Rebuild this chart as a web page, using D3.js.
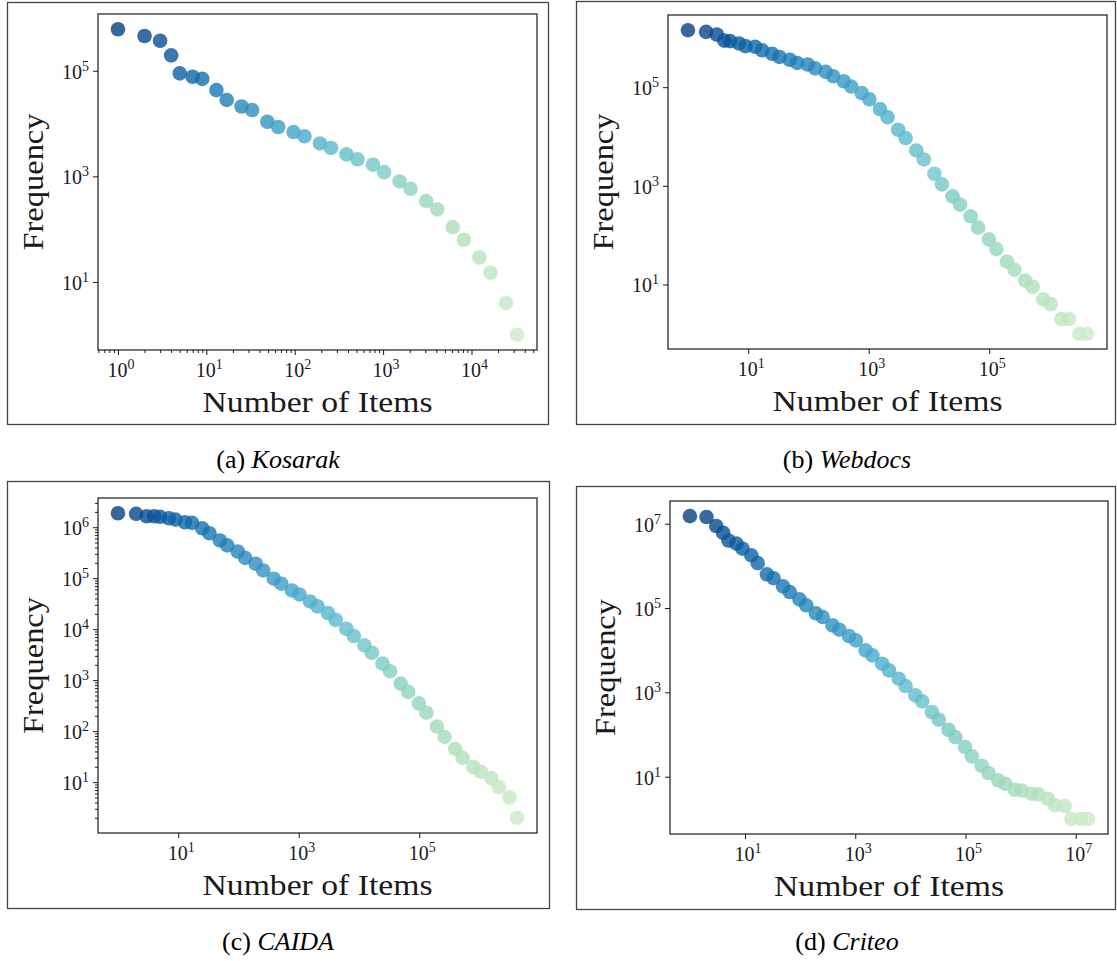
<!DOCTYPE html>
<html><head><meta charset="utf-8">
<script src="https://cdn.jsdelivr.net/npm/d3@7"></script>
<style>body{margin:0;background:#fff} svg{display:block}</style>
</head><body><svg id="chart" width="1117" height="961"></svg>
<script>
// ---------- data ----------
const kosarakX = [1,2,3,4,5,7,9,13,17,25,33,49,65,97,129,193,257,385,513,769,1025,1537,2049,3073,4097,6145,8193,12289,16385,24577,32769];
const kosarakY = [610000,455000,370000,195000,89000,77000,70000,43000,28000,21000,18000,10800,8600,6900,5750,4200,3450,2600,2100,1660,1200,800,580,340,236,109,63,29,15,4,1];

const webdocsX = [1,2,3,4,5,7,9,13,17,25,33,49,65,97,129,193,257,385,513,769,1025,1537,2049,3073,4097,6145,8193,12289,16385,24577,32769,49153,65537,98305,131073,196609,262145,393217,524289,786433,1048577,1572865,2097153,3145729,4194305];
const webdocsY = [1430000,1320000,1170000,880000,860000,770000,680000,660000,560000,475000,410000,360000,310000,288000,240000,205000,167000,132000,103000,75700,57000,36000,24700,13700,9300,5220,3430,1760,1070,612,416,241,142,82,52,29,20,12,9,5,4,2,2,1,1];

const caidaX = [1,2,3,4,5,7,9,13,17,25,33,49,65,97,129,193,257,385,513,769,1025,1537,2049,3073,4097,6145,8193,12289,16385,24577,32769,49153,65537,98305,131073,196609,262145,393217,524289,786433,1048577,1572865,2097153,3145729,4194305];
const caidaY = [1880000,1830000,1640000,1640000,1600000,1500000,1410000,1250000,1220000,955000,760000,550000,440000,334000,250000,192000,142000,97700,78000,57500,48000,35000,28000,20700,15300,10200,7350,4820,3450,2110,1500,857,588,350,230,123,77,45,30,20,16,12,8,5,2];

const criteoX = [1,2,3,4,5,7,9,13,17,25,33,49,65,97,129,193,257,385,513,769,1025,1537,2049,3073,4097,6145,8193,12289,16385,24577,32769,49153,65537,98305,131073,196609,262145,393217,524289,786433,1048577,1572865,2097153,3145729,4194305,6291457,8388609,12582913,16777217];
const criteoY = [15100000,14400000,8800000,6100000,4000000,3360000,2550000,1770000,1160000,630000,510000,326000,239000,160000,116000,75000,61000,39000,30600,21700,17100,9900,7540,4780,3330,2110,1410,849,612,342,225,130,87,50.6,30.4,18.2,12.2,8.2,6.8,4.9,4.7,3.95,3.8,3.0,2.1,2.0,1,1,1];

// tick values (powers of ten)
const kosarakXTicks = [1,10,100,1000,10000];
const kosarakYTicks = [10,1000,100000];
const webdocsXTicks = [10,1000,100000];
const webdocsYTicks = [10,1000,100000];
const caidaXTicks = [10,1000,100000];
const caidaYTicks = [10,100,1000,10000,100000,1000000];
const criteoXTicks = [10,1000,100000,10000000];
const criteoYTicks = [10,1000,100000,10000000];

const captionTags = ["(a)","(b)","(c)","(d)"];
const captionNames = ["Kosarak","Webdocs","CAIDA","Criteo"];
const xAxisTitle = "Number of Items";
const yAxisTitle = "Frequency";

// ---------- layout ----------
const panels = [
  {xs:kosarakX, ys:kosarakY, xt:kosarakXTicks, yt:kosarakYTicks, xMinor:true,  yMinor:false,
   box:[7,2,548,424],   plot:[98,14,537,350],  cap:[278,468]},
  {xs:webdocsX, ys:webdocsY, xt:webdocsXTicks, yt:webdocsYTicks, xMinor:false, yMinor:false,
   box:[576,1,1115,424], plot:[668,15,1107,349], cap:[847,468]},
  {xs:caidaX, ys:caidaY, xt:caidaXTicks, yt:caidaYTicks, xMinor:false, yMinor:true,
   box:[7,481,549,908], plot:[98,498,537,833], cap:[278,950]},
  {xs:criteoX, ys:criteoY, xt:criteoXTicks, yt:criteoYTicks, xMinor:false, yMinor:false,
   box:[576,486,1115,909], plot:[670,501,1108,834], cap:[847,950]}
];

const svg = d3.select("#chart");
const FONT = "'Liberation Serif','Times New Roman',serif";
const INK = "#1a1a1a";

function paddedLog(vals){
  const lo = Math.log10(d3.min(vals)), hi = Math.log10(d3.max(vals)), r = hi - lo;
  return [Math.pow(10, lo - 0.05*r), Math.pow(10, hi + 0.05*r)];
}
function minorTicks(domain){
  const out = [];
  const e0 = Math.floor(Math.log10(domain[0])), e1 = Math.ceil(Math.log10(domain[1]));
  for (let e = e0; e <= e1; e++) for (let m = 2; m <= 9; m++) {
    const v = m*Math.pow(10,e);
    if (v >= domain[0] && v <= domain[1]) out.push(v);
  }
  return out;
}
function powLabel(sel){
  sel.each(function(d){
    const t = d3.select(this);
    const e = Math.round(Math.log10(d));
    t.append("tspan").text("10");
    t.append("tspan").attr("dy", -8).attr("font-size", 14).text(String(e));
  });
}

panels.forEach((p, i) => {
  const [bx0,by0,bx1,by1] = p.box;
  const [px0,py0,px1,py1] = p.plot;
  const g = svg.append("g");

  g.append("rect").attr("x",bx0+0.5).attr("y",by0+0.5).attr("width",bx1-bx0).attr("height",by1-by0)
    .attr("fill","none").attr("stroke","#444").attr("stroke-width",1.3);

  const x = d3.scaleLog().domain(paddedLog(p.xs)).range([px0,px1]);
  const y = d3.scaleLog().domain(paddedLog(p.ys)).range([py1,py0]);
  const n = p.xs.length;
  const pts = p.xs.map((v,k)=>({x:v, y:p.ys[k], k}));

  g.append("g").selectAll("circle").data(pts).join("circle")
    .attr("cx", d=>x(d.x)).attr("cy", d=>y(d.y)).attr("r", 7.3)
    .attr("fill", d=>d3.interpolateGnBu(1 - 0.76*d.k/(n-1)))
    .attr("fill-opacity", 0.8);

  const xAxis = d3.axisBottom(x).tickValues(p.xt).tickSize(5).tickFormat("");
  const yAxis = d3.axisLeft(y).tickValues(p.yt).tickSize(5).tickFormat("");
  g.append("g").attr("transform",`translate(0,${py1})`).call(xAxis);
  g.append("g").attr("transform",`translate(${px0},0)`).call(yAxis);
  if (p.xMinor) g.append("g").attr("transform",`translate(0,${py1})`)
      .call(d3.axisBottom(x).tickValues(minorTicks(x.domain())).tickSize(3).tickFormat(""));
  if (p.yMinor) g.append("g").attr("transform",`translate(${px0},0)`)
      .call(d3.axisLeft(y).tickValues(minorTicks(y.domain())).tickSize(3).tickFormat(""));
  g.selectAll(".domain").remove();
  g.selectAll(".tick line").attr("stroke",INK).attr("stroke-width",1);

  g.append("rect").attr("x",px0).attr("y",py0).attr("width",px1-px0).attr("height",py1-py0)
    .attr("fill","none").attr("stroke",INK).attr("stroke-width",1.2);

  g.append("g").selectAll("text").data(p.xt).join("text")
    .attr("x", d=>x(d)+3).attr("y", py1+27).attr("text-anchor","middle")
    .attr("font-family",FONT).attr("font-size",20).attr("fill",INK).call(powLabel);
  g.append("g").selectAll("text").data(p.yt).join("text")
    .attr("x", px0-9).attr("y", d=>y(d)+8).attr("text-anchor","end")
    .attr("font-family",FONT).attr("font-size",20).attr("fill",INK).call(powLabel);

  g.append("text").attr("x",(px0+px1)/2).attr("y",py1+62).attr("text-anchor","middle")
    .attr("font-family",FONT).attr("font-size",29).attr("fill",INK)
    .attr("textLength",230).attr("lengthAdjust","spacingAndGlyphs").text(xAxisTitle);
  g.append("text").attr("transform",`translate(${px0-55},${(py0+py1)/2}) rotate(-90)`)
    .attr("text-anchor","middle").attr("font-family",FONT).attr("font-size",29).attr("fill",INK)
    .attr("textLength",137).attr("lengthAdjust","spacingAndGlyphs").text(yAxisTitle);

  const cap = g.append("text").attr("x",p.cap[0]).attr("y",p.cap[1]).attr("text-anchor","middle")
    .attr("font-family",FONT).attr("font-size",26).attr("fill","#000");
  cap.append("tspan").text(captionTags[i] + " ");
  cap.append("tspan").attr("font-style","italic").text(captionNames[i]);
});
</script></body></html>
